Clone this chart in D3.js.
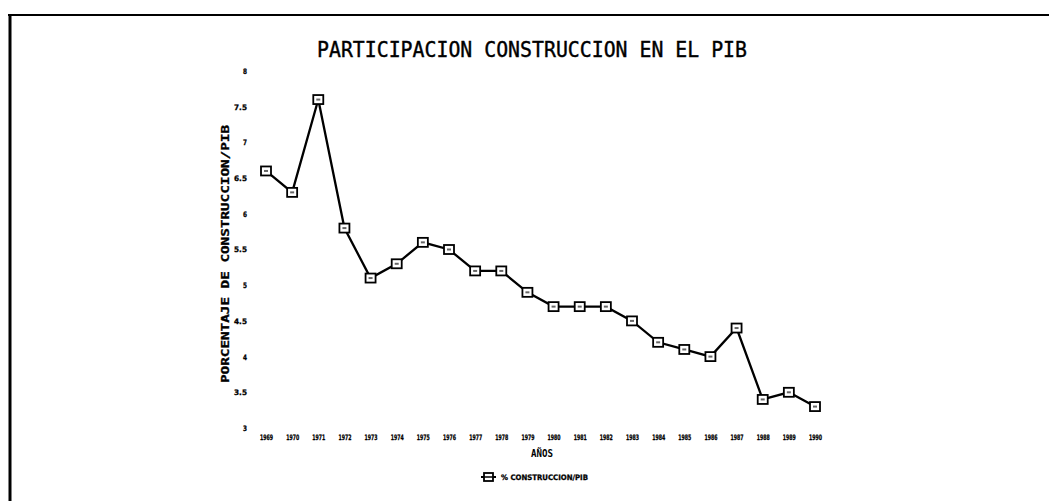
<!DOCTYPE html>
<html>
<head>
<meta charset="utf-8">
<script src="https://cdn.jsdelivr.net/npm/d3@7"></script>
<style>
  body { margin: 0; background: #fff; }
  svg { display: block; }
  .tick text { font-family: "DejaVu Sans", sans-serif; font-weight: bold; fill: #000; stroke: #000; stroke-width: 0.3px; }
</style>
</head>
<body>
<svg width="1049" height="501"></svg>
<script>
var years = ["1969", "1970", "1971", "1972", "1973", "1974", "1975", "1976", "1977", "1978", "1979",
             "1980", "1981", "1982", "1983", "1984", "1985", "1986", "1987", "1988", "1989", "1990"];
var construccionPib = [6.6, 6.3, 7.6, 5.8, 5.1, 5.3, 5.6, 5.5, 5.2, 5.2, 4.9,
                       4.7, 4.7, 4.7, 4.5, 4.2, 4.1, 4.0, 4.4, 3.4, 3.5, 3.3];
var yTicks = [3, 3.5, 4, 4.5, 5, 5.5, 6, 6.5, 7, 7.5, 8];

var svg = d3.select("svg");

// frame: left and top edges only
svg.append("line").attr("x1", 10).attr("y1", 14).attr("x2", 10).attr("y2", 501)
    .attr("stroke", "#000").attr("stroke-width", 3);
svg.append("line").attr("x1", 8).attr("y1", 15).attr("x2", 1049).attr("y2", 15)
    .attr("stroke", "#000").attr("stroke-width", 2);

var xScale = d3.scalePoint()
    .domain(years)
    .range([266, 815]);

var yScale = d3.scaleLinear()
    .domain([3, 8])
    .range([428, 71]);

// title
svg.append("text")
    .attr("x", 317).attr("y", 57)
    .attr("textLength", 430).attr("lengthAdjust", "spacingAndGlyphs")
    .style("font-family", "'DejaVu Sans Mono', monospace")
    .style("font-size", "21px")
    .style("stroke", "#000").style("stroke-width", 0.4)
    .text("PARTICIPACION CONSTRUCCION EN EL PIB");

// y axis, labels only
var yAxis = d3.axisLeft(yScale).tickValues(yTicks).tickSize(0).tickPadding(3)
    .tickFormat(function(d) { return String(d); });
var gy = svg.append("g").attr("transform", "translate(250,0)").call(yAxis);
gy.select(".domain").remove();
gy.selectAll("text").style("font-size", "7.5px")
    .attr("textLength", function(d) { return String(d).length > 1 ? 13 : 4; })
    .attr("lengthAdjust", "spacingAndGlyphs");

// x axis, labels only
var xAxis = d3.axisBottom(xScale).tickSize(0).tickPadding(0);
var gx = svg.append("g").attr("transform", "translate(0,435)").call(xAxis);
gx.select(".domain").remove();
gx.selectAll("text").style("font-size", "7.5px").attr("dy", "0.71em")
    .attr("textLength", 13).attr("lengthAdjust", "spacingAndGlyphs");

// axis titles
svg.append("text")
    .attr("transform", "translate(229,254) rotate(-90)")
    .attr("text-anchor", "middle")
    .attr("textLength", 258).attr("lengthAdjust", "spacingAndGlyphs")
    .style("font-family", "'DejaVu Sans Mono', monospace")
    .style("font-weight", "bold")
    .style("font-size", "10px")
    .style("stroke", "#000").style("stroke-width", 0.3)
    .text("PORCENTAJE DE CONSTRUCCION/PIB");

svg.append("text")
    .attr("x", 542).attr("y", 457)
    .attr("text-anchor", "middle")
    .attr("textLength", 22).attr("lengthAdjust", "spacingAndGlyphs")
    .style("font-family", "'DejaVu Sans Mono', monospace")
    .style("font-weight", "bold")
    .style("font-size", "11px")
    .text("AÑOS");

// series line
var line = d3.line()
    .x(function(d, i) { return xScale(years[i]); })
    .y(function(d) { return yScale(d); });

svg.append("path")
    .datum(construccionPib)
    .attr("d", line)
    .attr("fill", "none")
    .attr("stroke", "#000")
    .attr("stroke-width", 2.3);

// square markers
svg.selectAll("rect.marker")
    .data(construccionPib)
    .enter().append("rect")
    .attr("class", "marker")
    .attr("x", function(d, i) { return xScale(years[i]) - 5; })
    .attr("y", function(d) { return yScale(d) - 4.5; })
    .attr("width", 10)
    .attr("height", 9)
    .attr("fill", "#fff")
    .attr("stroke", "#000")
    .attr("stroke-width", 1.8);

svg.selectAll("rect.inner")
    .data(construccionPib)
    .enter().append("rect")
    .attr("class", "inner")
    .attr("x", function(d, i) { return xScale(years[i]) - 2; })
    .attr("y", function(d) { return yScale(d) - 1; })
    .attr("width", 4)
    .attr("height", 2)
    .attr("fill", "#000")
    .attr("opacity", 0.6);

// legend
var legend = svg.append("g").attr("transform", "translate(481,477)");
legend.append("line").attr("x1", 0).attr("x2", 15).attr("y1", 0).attr("y2", 0)
    .attr("stroke", "#000").attr("stroke-width", 2);
legend.append("rect").attr("x", 3).attr("y", -4).attr("width", 9).attr("height", 8)
    .attr("fill", "#fff").attr("stroke", "#000").attr("stroke-width", 1.8);
legend.append("line").attr("x1", 3).attr("x2", 12).attr("y1", 0).attr("y2", 0)
    .attr("stroke", "#000").attr("stroke-width", 1.5);
legend.append("text")
    .attr("x", 20).attr("y", 3)
    .attr("textLength", 87).attr("lengthAdjust", "spacingAndGlyphs")
    .style("font-family", "'DejaVu Sans', sans-serif")
    .style("font-weight", "bold")
    .style("font-size", "7.5px")
    .style("stroke", "#000").style("stroke-width", 0.3)
    .text("% CONSTRUCCION/PIB");
</script>
</body>
</html>
